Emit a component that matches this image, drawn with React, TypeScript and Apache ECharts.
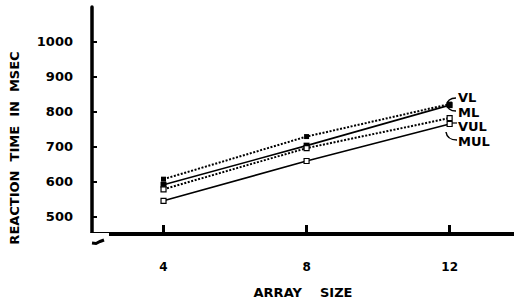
import React, { useEffect, useRef } from "react";
import * as echarts from "echarts";

const arraySizes = [4, 8, 12];
const vl = [607, 729, 822];
const ml = [591, 703, 819];
const vul = [578, 696, 782];
const mul = [545, 659, 765];
const yTicks = [500, 600, 700, 800, 900, 1000];
const seriesNames = ["VL", "ML", "VUL", "MUL"];

const FONT = "DejaVu Sans";

export default function App() {
  const ref = useRef<HTMLDivElement>(null);
  useEffect(() => {
    if (!ref.current) return;
    const chart = echarts.init(ref.current, null, { renderer: "svg" });
    const pts = (arr: number[]) => arraySizes.map((x, i) => [x, arr[i]]);
    const solid = { color: "#000", width: 1.6, type: "solid" as const };
    const dotted = { color: "#000", width: 2, type: [2, 1.6] as any };
    chart.setOption({
      animation: false,
      backgroundColor: "#fff",
      grid: { left: 92, right: 0, top: 7, bottom: 60, containLabel: false },
      xAxis: {
        type: "value",
        min: 2,
        max: 13.8,
        name: "ARRAY    SIZE",
        nameLocation: "middle",
        nameGap: 52,
        nameTextStyle: { fontFamily: FONT, fontWeight: "bold", fontSize: 13, color: "#000" },
        axisLine: { show: true, lineStyle: { color: "#000", width: 4 } },
        axisTick: { show: true, inside: true, length: 9, customValues: arraySizes, lineStyle: { color: "#000", width: 3 } },
        axisLabel: { customValues: arraySizes, margin: 27, fontFamily: FONT, fontWeight: "bold", fontSize: 12, color: "#000", formatter: (v: number) => String(v) },
        splitLine: { show: false },
      },
      yAxis: {
        type: "value",
        min: 450,
        max: 1100,
        axisLine: { show: true, lineStyle: { color: "#000", width: 3.5 } },
        axisTick: { show: true, inside: true, length: 5, customValues: yTicks, lineStyle: { color: "#000", width: 2 } },
        axisLabel: { customValues: yTicks, margin: 19, fontFamily: FONT, fontWeight: "bold", fontSize: 13, color: "#000", formatter: (v: number) => String(v) },
        splitLine: { show: false },
      },
      series: [
        { name: seriesNames[0], type: "line", data: pts(vl), lineStyle: dotted, symbol: "rect", symbolSize: 5, itemStyle: { color: "#000" }, z: 3 },
        { name: seriesNames[1], type: "line", data: pts(ml), lineStyle: solid, symbol: "rect", symbolSize: 6, itemStyle: { color: "#000" }, z: 3 },
        { name: seriesNames[2], type: "line", data: pts(vul), lineStyle: dotted, symbol: "rect", symbolSize: 5, itemStyle: { color: "#fff", borderColor: "#000", borderWidth: 1.2 }, z: 4 },
        { name: seriesNames[3], type: "line", data: pts(mul), lineStyle: solid, symbol: "rect", symbolSize: 5, itemStyle: { color: "#fff", borderColor: "#000", borderWidth: 1.2 }, z: 4 },
      ],
      graphic: [
        { type: "rect", z: 100, shape: { x: 86, y: 233, width: 23, height: 16 }, style: { fill: "#fff" } },
        { type: "polyline", z: 101, shape: { points: [[92, 243], [96, 243.5], [100, 241.5], [104, 240]] }, style: { stroke: "#000", lineWidth: 3, fill: "none" } },
        { type: "text", z: 101, x: 14, y: 148, rotation: Math.PI / 2, style: { text: "REACTION  TIME  IN  MSEC", font: `bold 13px '${FONT}'`, fill: "#000", textAlign: "center", textVerticalAlign: "middle" } },
        { type: "text", z: 101, x: 458, y: 97, style: { text: seriesNames[0], font: `bold 13px '${FONT}'`, fill: "#000", textAlign: "left", textVerticalAlign: "middle" } },
        { type: "text", z: 101, x: 458, y: 112, style: { text: seriesNames[1], font: `bold 13px '${FONT}'`, fill: "#000", textAlign: "left", textVerticalAlign: "middle" } },
        { type: "text", z: 101, x: 458, y: 126, style: { text: seriesNames[2], font: `bold 13px '${FONT}'`, fill: "#000", textAlign: "left", textVerticalAlign: "middle" } },
        { type: "text", z: 101, x: 458, y: 141, style: { text: seriesNames[3], font: `bold 13px '${FONT}'`, fill: "#000", textAlign: "left", textVerticalAlign: "middle" } },
        { type: "bezierCurve", z: 101, shape: { x1: 456, y1: 98, cpx1: 444, cpy1: 98, cpx2: 444, cpy2: 111, x2: 456, y2: 111 }, style: { stroke: "#000", lineWidth: 1.5, fill: "none" } },
        { type: "line", z: 101, shape: { x1: 452, y1: 123, x2: 457, y2: 123 }, style: { stroke: "#000", lineWidth: 1.2 } },
        { type: "bezierCurve", z: 101, shape: { x1: 446, y1: 132, cpx1: 447, cpy1: 139, cpx2: 452, cpy2: 140, x2: 457, y2: 140 }, style: { stroke: "#000", lineWidth: 1.5, fill: "none" } },
      ],
    });
    return () => chart.dispose();
  }, []);
  return <div ref={ref} style={{ position: "fixed", left: 0, top: 0, width: 514, height: 304 }} />;
}
